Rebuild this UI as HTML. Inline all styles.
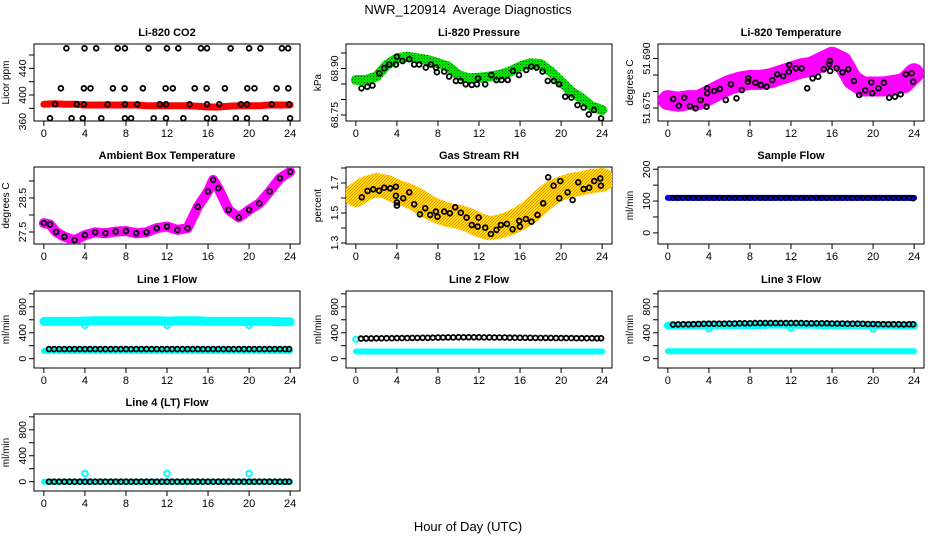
<!DOCTYPE html>
<html><head><meta charset="utf-8"><style>
html,body{margin:0;padding:0;background:#fff;}
svg{display:block;font-family:"Liberation Sans",Arial,sans-serif;}
</style></head><body>
<svg id="chart" width="936" height="540" viewBox="0 0 936 540">
<defs>
<pattern id="pgreen" width="3" height="3" patternUnits="userSpaceOnUse"><rect width="3" height="3" fill="#00e000"/><rect x="1" y="1" width="1" height="1" fill="#1a4d1a"/></pattern>
<pattern id="porange" width="3" height="3" patternUnits="userSpaceOnUse"><rect width="3" height="3" fill="#ffe000"/><rect width="1" height="1" fill="#ff8c00"/><rect x="2" y="1" width="1" height="1" fill="#ff8c00"/><rect x="1" y="2" width="1" height="1" fill="#ff8c00"/></pattern>
</defs>
<text x="468" y="14" text-anchor="middle" font-size="13" style="white-space:pre">NWR_120914  Average Diagnostics</text>
<text x="468" y="531" text-anchor="middle" font-size="13">Hour of Day (UTC)</text>
</svg>
<script>
// ---------- data ----------
const hoursHourly=[0,1,2,3,4,5,6,7,8,9,10,11,12,13,14,15,16,17,18,19,20,21,22,23,24];
const xTicks=[0,4,8,12,16,20,24];
// CO2
const co2Band=[386,387,386,386,385,385,385,385,385,385,384,384,384,384,384,383,382,382,383,384,384,384,385,385,385];
const co2Hours=[2.2,3.96,5.1,7.2,7.9,10.2,12.0,13.1,15.3,15.9,18.2,20.0,21.1,23.2,23.8,
1.66,3.9,4.55,6.73,7.87,9.65,11.86,12.57,14.7,15.86,17.64,19.82,20.53,22.68,23.82,
1.1,3.2,3.9,6.2,7.9,9.1,11.3,11.9,14.2,15.9,17.1,19.2,19.8,22.2,23.9,
0.6,2.7,3.8,5.6,7.9,8.5,10.7,11.9,13.6,15.9,16.6,18.7,19.8,21.6,24.0];
const co2Vals=[470,470,470,470,470,470,470,470,470,470,470,470,470,470,470,
410,410,410,410,410,410,410,410,410,410,410,410,410,410,410,
386,386,386,386,386,386,386,386,386,386,386,386,386,386,386,
365,365,365,365,365,365,365,365,365,365,365,365,365,365,365];
// Pressure
const presBand=[68.863,68.863,68.874,68.911,68.933,68.938,68.933,68.927,68.917,68.906,68.879,68.868,68.870,68.874,68.879,68.890,68.906,68.917,68.914,68.890,68.857,68.825,68.804,68.777,68.766];
const presHours=[0.55,1.12,1.62,2.28,2.77,3.25,3.9,4.0,4.55,5.2,5.69,6.17,6.82,7.31,7.8,7.9,8.61,9.1,9.75,10.2,10.7,11.3,11.8,11.9,12.6,13.2,13.7,14.2,14.8,15.3,15.9,16.6,17.1,17.6,18.2,18.7,19.3,19.8,20.4,21.0,21.6,22.2,22.7,23.2,23.9];
const presVals=[68.836,68.841,68.845,68.884,68.901,68.913,68.913,68.938,68.924,68.930,68.913,68.913,68.903,68.913,68.903,68.888,68.890,68.874,68.860,68.860,68.849,68.847,68.849,68.868,68.849,68.879,68.863,68.863,68.863,68.892,68.879,68.895,68.906,68.903,68.890,68.860,68.860,68.849,68.809,68.806,68.782,68.774,68.752,68.766,68.739];
// Li-820 temperature
const tempBand=[51.6774,51.6769,51.6774,51.6774,51.6789,51.6805,51.6820,51.6830,51.6835,51.6835,51.6840,51.6850,51.6860,51.6870,51.6875,51.6890,51.6905,51.6890,51.6835,51.6815,51.6815,51.6815,51.6820,51.6825,51.6855];
const tempHours=[0.52,1.07,1.59,2.14,2.7,3.18,3.77,3.83,3.83,4.52,5.07,5.65,6.14,6.69,7.21,7.8,7.83,8.54,9.06,9.62,10.17,10.66,11.24,11.79,11.83,12.47,13.03,13.58,14.1,14.65,15.2,15.72,15.79,15.82,16.44,17.02,17.58,18.13,18.65,19.23,19.82,19.92,20.53,21.05,21.57,22.12,22.68,23.2,23.75,23.91];
const tempVals=[51.67773,51.67570,51.67813,51.67561,51.67491,51.67742,51.67539,51.67945,51.68097,51.68015,51.68076,51.67742,51.68218,51.67794,51.68045,51.68297,51.68400,51.68267,51.68197,51.68145,51.68348,51.68521,51.68470,51.68600,51.68803,51.68703,51.68703,51.68097,51.68400,51.68448,51.68673,51.68824,51.68924,51.68621,51.68703,51.68582,51.68673,51.68318,51.67894,51.68036,51.68279,51.67945,51.68097,51.68267,51.67813,51.67842,51.67915,51.68521,51.68552,51.68297];
// Ambient box temperature
const ambHours=[0,0.6,1.2,2,3,4,5,6,7,8,9,10,11,12,13,14,15,16,16.5,17,18,19,20,21,22,23,24];
const ambVals=[27.76,27.72,27.50,27.36,27.26,27.41,27.49,27.46,27.51,27.53,27.46,27.49,27.61,27.66,27.56,27.61,28.24,28.69,29.03,28.79,28.15,27.93,28.15,28.34,28.69,29.08,29.27];
// Gas stream RH
const rhBand=[1.62,1.665,1.687,1.675,1.642,1.62,1.587,1.542,1.509,1.487,1.475,1.453,1.42,1.398,1.409,1.431,1.465,1.509,1.575,1.631,1.665,1.687,1.698,1.713,1.72];
const rhHours=[0.58,1.14,1.69,2.27,2.76,3.35,3.9,3.9,4.0,4.0,4.61,5.2,5.69,6.24,6.76,7.24,7.8,7.96,8.61,9.16,9.68,10.23,10.79,11.3,11.86,11.96,12.6,13.16,13.71,14.13,14.72,15.27,15.92,15.99,16.57,17.12,17.7,18.26,18.74,19.27,19.82,19.92,20.63,21.12,21.67,22.2,22.74,23.23,23.82,23.88];
const rhVals=[1.605,1.647,1.658,1.649,1.669,1.665,1.675,1.615,1.571,1.549,1.598,1.638,1.558,1.491,1.531,1.487,1.509,1.475,1.509,1.498,1.538,1.502,1.469,1.420,1.409,1.469,1.402,1.360,1.387,1.420,1.427,1.391,1.447,1.409,1.460,1.442,1.487,1.565,1.738,1.682,1.598,1.713,1.638,1.587,1.705,1.660,1.669,1.713,1.731,1.682];
// Flows
const flowHours=[0.5,1,1.5,2,2.5,3,3.5,4,4.5,5,5.5,6,6.5,7,7.5,8,8.5,9,9.5,10,10.5,11,11.5,12,12.5,13,13.5,14,14.5,15,15.5,16,16.5,17,17.5,18,18.5,19,19.5,20,20.5,21,21.5,22,22.5,23,23.5,23.9];
const sampleCyan=[110,110,110,110,110,110,110,110,110,110,110,110,110,110,110,110,110,110,110,110,110,110,110,110,110];
const sampleBlack=[110,110,110,110,110,110,110,110,110,110,110,110,110,110,110,110,110,110,110,110,110,110,110,110,110,110,110,110,110,110,110,110,110,110,110,110,110,110,110,110,110,110,110,110,110,110,110,108];
const line1CyanHigh=[575,575,575,575,580,585,585,585,585,585,585,585,580,585,585,585,575,575,575,575,575,575,575,570,570];
const line1CyanLow=[120,120,120,120,120,120,120,120,120,120,120,120,120,120,120,120,120,120,120,120,120,120,120,120,120];
const line1Black=[148,148,148,148,148,148,148,148,148,148,148,148,148,148,148,148,148,148,148,148,148,148,148,148,148,148,148,148,148,148,148,148,148,148,148,148,148,148,148,148,148,148,148,148,148,148,148,148];
const line2CyanLow=[110,110,110,110,110,110,110,110,110,110,110,110,110,110,110,110,110,110,110,110,110,110,110,110,110];
const line2Black=[310,312,312,314,314,316,316,318,318,318,320,320,322,322,324,326,326,328,328,330,330,330,330,330,328,328,326,326,326,324,324,322,322,322,320,320,320,320,318,318,318,318,316,316,316,316,315,315];
const line3CyanHigh=[510,510,510,515,515,520,520,520,520,520,525,525,525,525,525,520,520,520,520,515,515,515,515,510,510];
const line3CyanLow=[115,115,115,115,115,115,115,115,115,115,115,115,115,115,115,115,115,115,115,115,115,115,115,115,115];
const line3Black=[525,528,530,530,532,535,538,540,540,540,540,542,542,545,545,545,548,548,548,548,548,548,548,548,548,548,545,545,545,545,545,542,542,542,540,540,540,538,535,535,532,532,530,530,530,528,530,530];
const line4Cyan=[0,0,0,0,0,0,0,0,0,0,0,0,0,0,0,0,0,0,0,0,0,0,0,0,0];
const line4Black=[0,0,0,0,0,0,0,0,0,0,0,0,0,0,0,0,0,0,0,0,0,0,0,0,0,0,0,0,0,0,0,0,0,0,0,0,0,0,0,0,0,0,0,0,0,0,0,0];
const spikeHours=[4,12,20];
const line1Dips=[510,510,510];
const line3Dips=[460,470,460];
const line4Spikes=[125,125,125];

// ---------- drawing ----------
const NS='http://www.w3.org/2000/svg';
const svg=document.getElementById('chart');
const W=266,HH=77;
function mk(tag,attrs,parent){const e=document.createElementNS(NS,tag);for(const k in attrs)e.setAttribute(k,attrs[k]);(parent||svg).appendChild(e);return e;}
function px(p,h){return p.left+(h+0.96)/25.92*W;}
function py(p,v){return p.top+HH*(p.ymax-v)/(p.ymax-p.ymin);}

function panel(name,left,top,ymin,ymax,yticks,ylabels,title,ylab){
  const p={left,top,ymin,ymax};
  const g=mk('g',{});
  
  
  p.g=g;
  const box=mk('rect',{x:left,y:top,width:W,height:HH,fill:'none',stroke:'#000','stroke-width':1},g);
  
  
  const t=mk('text',{x:left+W/2,y:top-8,'text-anchor':'middle','font-size':11,'font-weight':'bold'},g);
  t.textContent=title;
  
  
  const yl=mk('text',{x:0,y:0,'text-anchor':'middle','font-size':10,transform:`translate(${left-25},${top+HH/2}) rotate(-90)`},g);
  yl.textContent=ylab;
  
  
  const xa=mk('g',{},g);
  
  
  const yb=top+HH;
  mk('line',{x1:px(p,0),x2:px(p,24),y1:yb,y2:yb,stroke:'#000'},xa);
  xTicks.forEach(h=>{
    const x=px(p,h);
    mk('line',{x1:x,x2:x,y1:yb,y2:yb+5,stroke:'#000'},xa);
    const tl=mk('text',{x:x,y:yb+16,'text-anchor':'middle','font-size':11},xa);
    tl.textContent=h;
    
    
  });
  const ya=mk('g',{},g);
  
  
  const vis=yticks.filter(v=>v>=ymin-1e-9&&v<=ymax+1e-9);
  mk('line',{x1:left,x2:left,y1:py(p,vis[0]),y2:py(p,vis[vis.length-1]),stroke:'#000'},ya);
  vis.forEach(v=>{
    const y=py(p,v);
    mk('line',{x1:left-5,x2:left,y1:y,y2:y,stroke:'#000'},ya);
  });
  ylabels.forEach(lb=>{
    const y=py(p,parseFloat(lb));
    const tl=mk('text',{x:0,y:0,'text-anchor':'middle','font-size':10.5,transform:`translate(${left-8},${y}) rotate(-90)`},ya);
    tl.textContent=lb;
    
    
  });
  const clip='clip-'+name;
  const cp=mk('clipPath',{id:clip});
  mk('rect',{x:left,y:top,width:W,height:HH},cp);
  p.plot=mk('g',{'clip-path':`url(#${clip})`},g);
  return p;
}
function band(p,xs,vals,color,width,name){
  const pts=xs.map((h,i)=>px(p,h).toFixed(1)+','+py(p,vals[i]).toFixed(1)).join(' ');
  const l=mk('polyline',{points:pts,fill:'none',stroke:color,'stroke-width':width,'stroke-linejoin':'round','stroke-linecap':'round'},p.plot);
  
  
}
function pts(p,xs,vals,color,name,r,sw){
  const g=mk('g',{},p.plot);
  
  
  xs.forEach((h,i)=>{
    const c=mk('circle',{cx:px(p,h).toFixed(1),cy:py(p,vals[i]).toFixed(1),r:r||2.4,fill:'none',stroke:color,'stroke-width':sw||1.8},g);
    
    
  });
}
const L=[34,346,658],T=[44,167,291,414];
const flowT=[0,200,400,600,800,1000],flowL=['0','400','800'];

let p=panel('co2',L[0],T[0],361,476.5,[360,380,400,420,440,460],['360','400','440'],'Li-820 CO2','Licor ppm');
band(p,hoursHourly,co2Band,'#ff0000',7,'co2-band');
pts(p,co2Hours,co2Vals,'#000','co2-black');

p=panel('pressure',L[1],T[0],68.7306,68.979,[68.75,68.80,68.85,68.90,68.95],['68.75','68.90'],'Li-820 Pressure','kPa');
band(p,hoursHourly,presBand,'url(#pgreen)',10,'pressure-band');
pts(p,presHours,presVals,'#000','pressure-black');

p=panel('li820temp',L[2],T[0],51.67106,51.69439,[51.675,51.680,51.685,51.690],['51.675','51.690'],'Li-820 Temperature','degrees C');
band(p,hoursHourly,tempBand,'#ff00ff',20,'temp-band');
pts(p,tempHours,tempVals,'#000','temp-black');

p=panel('ambient',L[0],T[1],27.147,29.41,[27.5,28.0,28.5,29.0],['27.5','28.5'],'Ambient Box Temperature','degrees C');
band(p,ambHours,ambVals,'#ff00ff',10,'ambient-band');
pts(p,ambHours,ambVals,'#000','ambient-black');

p=panel('rh',L[1],T[1],1.2933,1.8067,[1.3,1.4,1.5,1.6,1.7,1.8],['1.3','1.5','1.7'],'Gas Stream RH','percent');
band(p,hoursHourly,rhBand,'url(#porange)',24,'rh-band');
pts(p,rhHours,rhVals,'#000','rh-black');

p=panel('sample',L[2],T[1],-35,207,[0,50,100,150,200],['0','100','200'],'Sample Flow','ml/min');
band(p,hoursHourly,sampleCyan,'#0000ff',6,'sample-band');
pts(p,flowHours,sampleBlack,'#000','sample-black',2.2,1.5);

p=panel('line1',L[0],T[2],-144,1044,flowT,flowL,'Line 1 Flow','ml/min');
band(p,hoursHourly,line1CyanHigh,'#00ffff',9,'line1-cyan-high');
band(p,hoursHourly,line1CyanLow,'#00ffff',6,'line1-cyan-low');
pts(p,spikeHours,line1Dips,'#00ffff','line1-dips',2.6,2);
pts(p,flowHours,line1Black,'#000','line1-black',2.4,1.8);

p=panel('line2',L[1],T[2],-144,1044,flowT,flowL,'Line 2 Flow','ml/min');
band(p,hoursHourly,line2CyanLow,'#00ffff',6,'line2-cyan-low');
pts(p,[0],[300],'#00ffff','line2-start',2.6,2);
pts(p,flowHours,line2Black,'#000','line2-black',2.4,1.8);

p=panel('line3',L[2],T[2],-144,1044,flowT,flowL,'Line 3 Flow','ml/min');
band(p,hoursHourly,line3CyanHigh,'#00ffff',8,'line3-cyan-high');
band(p,hoursHourly,line3CyanLow,'#00ffff',6,'line3-cyan-low');
pts(p,spikeHours,line3Dips,'#00ffff','line3-dips',2.6,2);
pts(p,flowHours,line3Black,'#000','line3-black',2.4,1.8);

p=panel('line4',L[0],T[3],-144,1044,flowT,flowL,'Line 4 (LT) Flow','ml/min');
band(p,hoursHourly,line4Cyan,'#00ffff',6,'line4-cyan');
pts(p,spikeHours,line4Spikes,'#00ffff','line4-spikes',2.8,2);
pts(p,flowHours,line4Black,'#000','line4-black',2.4,1.8);
</script>
</body></html>
